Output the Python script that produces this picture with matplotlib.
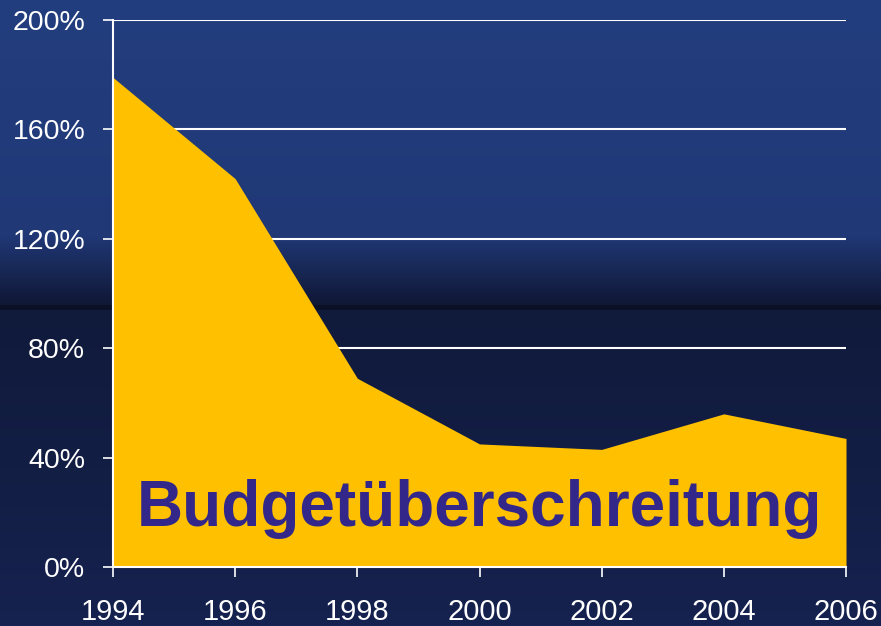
"""Budgetüberschreitung area chart on a dark blue slide background."""

import matplotlib
matplotlib.use("Agg")
import matplotlib.pyplot as plt
import numpy as np

years = [1994, 1996, 1998, 2000, 2002, 2004, 2006]
overrun_pct = [179, 142, 69, 45, 43, 56, 47]
y_ticks = [0, 40, 80, 120, 160, 200]
y_tick_labels = ["0%", "40%", "80%", "120%", "160%", "200%"]
label_text = "Budgetüberschreitung"

FILL_COLOR = "#FFC000"
TEXT_COLOR = "#33288A"
FG_COLOR = "white"

W, H = 881, 626
plt.rcParams["font.family"] = ["Liberation Sans", "DejaVu Sans"]

fig = plt.figure(figsize=(W / 100, H / 100), dpi=100)

# background gradient (slide style): blue top, dark band, navy bottom
bg = fig.add_axes([0, 0, 1, 1])
stops_y = [0, 235, 298, 304, 305, 309, 310, 626]
stops_rgb = np.array([
    [0x23, 0x3E, 0x7E],
    [0x20, 0x38, 0x76],
    [0x11, 0x1A, 0x3B],
    [0x10, 0x18, 0x36],
    [0x0A, 0x10, 0x26],
    [0x0A, 0x10, 0x26],
    [0x10, 0x1A, 0x3B],
    [0x16, 0x22, 0x4F],
]) / 255.0
rows = np.arange(H)
column = np.stack([np.interp(rows, stops_y, stops_rgb[:, c]) for c in range(3)], axis=-1)
bg.imshow(np.repeat(column[:, None, :], 4, axis=1), aspect="auto", extent=[0, 1, 1, 0])
bg.set_axis_off()

left, right, top, bottom = 113, 846, 20, 567
ax = fig.add_axes([left / W, 1 - bottom / H, (right - left) / W, (bottom - top) / H])
ax.set_facecolor("none")

ax.fill_between(years, overrun_pct, 0, color=FILL_COLOR, linewidth=0, zorder=2)
for t in y_ticks[1:]:
    ax.axhline(t, color=FG_COLOR, linewidth=1.5, zorder=1)

ax.text(2000, 15, label_text, ha="center", va="baseline", fontsize=46,
        fontweight="bold", color=TEXT_COLOR, zorder=3)

ax.set_xlim(years[0], years[-1])
ax.set_ylim(0, 200)
ax.set_xticks(years)
ax.set_yticks(y_ticks)
ax.set_yticklabels(y_tick_labels)

for side in ("top", "right"):
    ax.spines[side].set_visible(False)
for side in ("left", "bottom"):
    ax.spines[side].set_color(FG_COLOR)
    ax.spines[side].set_linewidth(1.5)
    ax.spines[side].set_zorder(4)

ax.tick_params(axis="y", colors=FG_COLOR, labelsize=20.5, length=7, width=1.2, pad=13)
ax.tick_params(axis="x", colors=FG_COLOR, labelsize=21, length=7, width=1.2, pad=15)
for lbl in ax.get_xticklabels() + ax.get_yticklabels():
    lbl.set_clip_on(False)

fig.savefig("out.png", dpi=100)
